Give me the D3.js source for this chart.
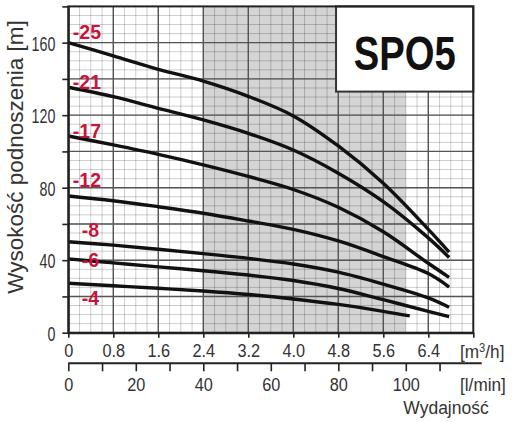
<!DOCTYPE html>
<html>
<head>
<meta charset="utf-8">
<script src="https://cdn.jsdelivr.net/npm/d3@7"></script>
<style>
  body { margin: 0; background: #fff; }
  svg { display: block; }
</style>
</head>
<body>
<div id="pump-chart"></div>
<script>
// Data
const models = ["-25", "-21", "-17", "-12", "-8", "-6", "-4"];
const flowLong = [0, 0.8, 1.6, 2.4, 3.2, 4.0, 4.8, 5.6, 6.4, 6.77];
const flowShort = [0, 0.8, 1.6, 2.4, 3.2, 4.0, 4.8, 5.6, 6.07];
const head25 = [160, 152.7, 145.3, 138.8, 130.4, 119.6, 103, 82.4, 57, 44.5];
const head21 = [135.4, 130.2, 123.8, 117.4, 110, 100.8, 88, 72.3, 52.3, 41.5];
const head17 = [108.5, 103.6, 98.4, 92.6, 86.2, 79, 69.2, 55.7, 38.3, 30.5];
const head12 = [75.4, 72.8, 69.5, 65.9, 61.6, 57, 50.6, 42, 32.6, 25.2];
const head8 = [50.2, 48.3, 46, 43.6, 41, 37.9, 33.4, 26.8, 19.2, 14];
const head6 = [40.7, 38.5, 36.3, 34.2, 31.8, 28.8, 24.4, 18.2, 11.8, 8.9];
const head4 = [27.3, 25.9, 24.5, 23, 21.1, 18.6, 15.6, 11.8, 9.3];

// where the model numbers sit (flow, head)
const labelFlow = [0.08, 0.08, 0.08, 0.08, 0.24, 0.24, 0.24];
const labelHead = [162, 134.4, 107.4, 80.4, 53, 36.1, 15.3];

// recommended working range (shaded)
const workRange = [2.4, 6.0];

const flowTicks = [0, 0.8, 1.6, 2.4, 3.2, 4.0, 4.8, 5.6, 6.4];
const lminTicks = [0, 20, 40, 60, 80, 100];
const headTicks = [0, 40, 80, 120, 160];

const heads = [head25, head21, head17, head12, head8, head6, head4];
const flows = [flowLong, flowLong, flowLong, flowLong, flowLong, flowLong, flowShort];

// Set up SVG
const width = 512;
const height = 422;
const plot = { left: 68.3, right: 473.3, top: 6.4, bottom: 332.7 };
const font = "'Liberation Sans', Arial, sans-serif";
const textColor = "#333";

const svg = d3.select("#pump-chart")
    .append("svg")
    .attr("width", width)
    .attr("height", height)
    .style("background", "#fff");

const x = d3.scaleLinear().domain([0, 7.2]).range([plot.left, plot.right]);
const xl = d3.scaleLinear().domain([0, 120]).range([plot.left, plot.right]); // 1 m3/h = 16.67 l/min
const y = d3.scaleLinear().domain([0, 180]).range([plot.bottom, plot.top]);

// Shaded range
svg.append("rect")
    .attr("x", x(workRange[0]))
    .attr("y", y(180))
    .attr("width", x(workRange[1]) - x(workRange[0]))
    .attr("height", y(0) - y(180))
    .attr("fill", "#d4d4d4");

// Grid
const grid = svg.append("g");
grid.selectAll(".vminor")
    .data(d3.range(0, 36).map(i => i * 0.2))
    .enter().append("line")
    .attr("x1", d => x(d)).attr("x2", d => x(d))
    .attr("y1", y(0)).attr("y2", y(180))
    .attr("stroke", "rgba(0,0,0,0.2)")
    .attr("stroke-width", 1);
grid.selectAll(".hminor")
    .data(d3.range(0, 36).map(i => i * 5))
    .enter().append("line")
    .attr("x1", x(0)).attr("x2", x(7.2))
    .attr("y1", d => y(d)).attr("y2", d => y(d))
    .attr("stroke", "rgba(0,0,0,0.2)")
    .attr("stroke-width", 1);
grid.selectAll(".vmajor")
    .data(d3.range(1, 9).map(i => i * 0.8))
    .enter().append("line")
    .attr("x1", d => x(d)).attr("x2", d => x(d))
    .attr("y1", y(0)).attr("y2", y(180))
    .attr("stroke", "#555")
    .attr("stroke-width", 1.4);
grid.selectAll(".hmajor")
    .data(d3.range(1, 9).map(i => i * 20))
    .enter().append("line")
    .attr("x1", x(0)).attr("x2", x(7.2))
    .attr("y1", d => y(d)).attr("y2", d => y(d))
    .attr("stroke", "#555")
    .attr("stroke-width", 1.4);

// Title box
svg.append("rect")
    .attr("x", x(4.76))
    .attr("y", y(180))
    .attr("width", x(7.2) - x(4.76))
    .attr("height", y(133) - y(180))
    .attr("fill", "#fff")
    .attr("stroke", "#333")
    .attr("stroke-width", 2);

svg.append("text")
    .attr("transform", `translate(${(x(4.76) + x(7.2)) / 2},70) scale(0.78,1)`)
    .attr("text-anchor", "middle")
    .style("font-family", font)
    .style("font-weight", "bold")
    .style("font-size", "49px")
    .style("fill", "#111")
    .text("SPO5");

// Curves
const line = d3.line()
    .x(d => x(d[0]))
    .y(d => y(d[1]))
    .curve(d3.curveCatmullRom.alpha(0.5));

svg.selectAll(".curve")
    .data(heads)
    .enter().append("path")
    .attr("class", "curve")
    .attr("d", (h, i) => line(h.map((v, j) => [flows[i][j], v])))
    .attr("fill", "none")
    .attr("stroke", "#111")
    .attr("stroke-width", 3.4)
    .attr("stroke-linecap", "butt");

// Model labels
svg.selectAll(".model")
    .data(models)
    .enter().append("text")
    .attr("x", (d, i) => x(labelFlow[i]))
    .attr("y", (d, i) => y(labelHead[i]))
    .style("font-family", font)
    .style("font-weight", "bold")
    .style("font-size", "19.5px")
    .style("fill", "#c8143c")
    .text(d => d);

// Frame
svg.append("rect")
    .attr("x", x(0))
    .attr("y", y(180))
    .attr("width", x(7.2) - x(0))
    .attr("height", y(0) - y(180))
    .attr("fill", "none")
    .attr("stroke", "#222")
    .attr("stroke-width", 2);

// Axes
const xAxis = svg.append("g")
    .attr("transform", `translate(0,${y(0)})`)
    .call(d3.axisBottom(x).tickValues(d3.range(0, 10).map(i => i * 0.8)).tickSize(5).tickSizeOuter(0)
        .tickFormat(d => flowTicks.includes(+d.toFixed(1)) ? (d === 0 ? "0" : d3.format(".1f")(d)) : ""));

const lAxis = svg.append("g")
    .attr("transform", "translate(0,363.3)")
    .call(d3.axisBottom(xl).tickValues(d3.range(0, 12).map(i => i * 10)).tickSize(8).tickSizeOuter(0)
        .tickFormat(d => lminTicks.includes(d) ? d : ""));
lAxis.select(".domain").attr("d", `M${xl(0)},0H481.7`);

const yAxis = svg.append("g")
    .attr("transform", `translate(${x(0)},0)`)
    .call(d3.axisLeft(y).tickValues(d3.range(0, 10).map(i => i * 20)).tickSize(6).tickSizeOuter(0)
        .tickFormat(d => headTicks.includes(d) ? d : ""));

[xAxis, lAxis, yAxis].forEach(g => {
    g.select(".domain").attr("stroke", "#222").attr("stroke-width", 2);
    g.selectAll(".tick line").attr("stroke", "#222").attr("stroke-width", 1.6);
    g.selectAll("text")
        .style("font-family", font)
        .style("fill", textColor);
});

xAxis.selectAll("text")
    .attr("y", 24.6).attr("dy", 0)
    .attr("transform", "scale(0.88,1)")
    .style("font-size", "18.5px");
lAxis.selectAll("text")
    .attr("y", 27.7).attr("dy", 0)
    .attr("transform", "scale(0.88,1)")
    .style("font-size", "18.5px");
yAxis.selectAll("text")
    .attr("x", -19).attr("dy", "0.36em")
    .attr("transform", "scale(0.68,1)")
    .style("font-size", "21px");

// Unit and axis titles
svg.append("text")
    .attr("transform", "translate(460,357.5) scale(0.93,1)")
    .style("font-family", font)
    .style("font-size", "18.5px")
    .style("fill", textColor)
    .html("[m<tspan dy='-6' font-size='12px'>3</tspan><tspan dy='6'>/h]</tspan>");

svg.append("text")
    .attr("transform", "translate(460,391) scale(0.93,1)")
    .style("font-family", font)
    .style("font-size", "18.5px")
    .style("fill", textColor)
    .text("[l/min]");

svg.append("text")
    .attr("x", 446)
    .attr("y", 414)
    .attr("text-anchor", "middle")
    .style("font-family", font)
    .style("font-size", "17.5px")
    .style("fill", textColor)
    .text("Wydajność");

svg.append("text")
    .attr("transform", "translate(23,157) rotate(-90)")
    .attr("text-anchor", "middle")
    .style("font-family", font)
    .style("font-size", "22.5px")
    .style("fill", textColor)
    .text("Wysokość podnoszenia [m]");
</script>
</body>
</html>
